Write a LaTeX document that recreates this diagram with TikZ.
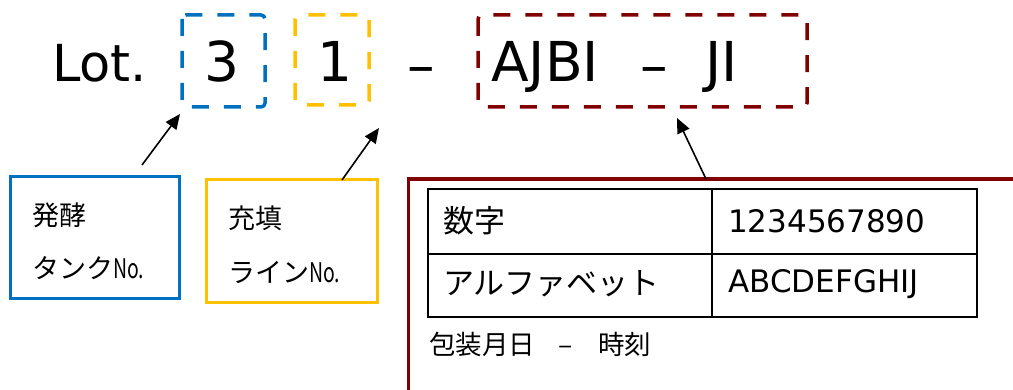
\documentclass[tikz,border=0pt]{standalone}
\usepackage{fontspec}
\usepackage{graphicx}
\setmainfont{DejaVu Sans}
\newfontfamily\jp{Noto Sans CJK JP}
\usetikzlibrary{arrows.meta}
\definecolor{cblue}{RGB}{0,112,192}
\definecolor{cyellow}{RGB}{255,192,0}
\definecolor{cred}{RGB}{128,0,0}
\newcommand{\nummark}{\scalebox{0.72}[1]{No.}}
\tikzset{
  big/.style={font=\fontsize{55}{60}\selectfont, inner sep=0pt, anchor=base},
  dbox/.style={line width=3.5pt, rounded corners=4pt, dash pattern=on 17pt off 15pt},
  sbox/.style={line width=3pt},
  lbl/.style={font=\jp\fontsize{27}{30}\selectfont, inner sep=0pt, anchor=west},
  tbl/.style={font=\fontsize{31}{34}\selectfont, inner sep=0pt, anchor=west},
  note/.style={font=\jp\fontsize{26.5}{30}\selectfont, inner sep=0pt, anchor=base west},
  arr/.style={line width=1.6pt, -{Triangle[length=15pt,width=13pt]}},
}
\begin{document}
\begin{tikzpicture}[x=1pt,y=-1pt]
\useasboundingbox (0,0) rectangle (1013,390);
% top line
\node[big, anchor=base west] (lot) at (52,82) {\fontsize{51}{56}\selectfont Lot.};
\node[big] (n3) at (222,82) {3};
\node[big] (n1) at (335,82) {1};
\node[big] (d1) at (421,85) {–};
\node[big, anchor=base west] (code1) at (491,82) {AJBI};
\node[big] (code2) at (654,85) {–};
\node[big, anchor=base west] (code3) at (705,82) {JI};
% dashed boxes
\draw[dbox, cblue] (182,15) rectangle (265,107);
\draw[dbox, cyellow] (295,15) rectangle (369,105);
\draw[dbox, cred] (478,15) rectangle (807,107);
\coordinate (tipA) at (180,114);
\coordinate (tipB) at (379,128);
\coordinate (tipC) at (677,118);
% label boxes
\draw[sbox, cblue] (10,177) rectangle (179,299);
\node[lbl] (t1) at (32,215) {発酵};
\node[lbl] (t2) at (32,268) {タンク\nummark};
\draw[sbox, cyellow] (206,180) rectangle (377,303);
\node[lbl] (t3) at (228,218) {充填};
\node[lbl] (t4) at (228,272) {ライン\nummark};
\coordinate (srcA) at (142,165);
\coordinate (srcB) at (342,180);
\coordinate (srcC) at (706,179);
% red frame
\draw[cred, line width=3.5pt] (1014,179) -- (408.5,179) -- (408.5,391);
% table
\draw[line width=2pt] (428,189) rectangle (977,317);
\draw[line width=2pt] (428,254) -- (977,254);
\draw[line width=2pt] (712,189) -- (712,317);
\node[tbl, font=\jp\fontsize{31}{34}\selectfont] (c11) at (443,221) {数字};
\node[tbl] (c12) at (728,221) {1234567890};
\node[tbl, font=\jp\fontsize{31}{34}\selectfont] (c21) at (443,284) {アルファベット};
\node[tbl] (c22) at (728,284) {ABCDEFGHIJ};
\node[note] (note1) at (429,355) {包装月日};
\node[note] (note2) at (558,355) {–};
\node[note] (note3) at (598,355) {時刻};
% arrows
\draw[arr] (srcA) -- (tipA);
\draw[arr] (srcB) -- (tipB);
\draw[arr] (srcC) -- (tipC);
\end{tikzpicture}
\end{document}
